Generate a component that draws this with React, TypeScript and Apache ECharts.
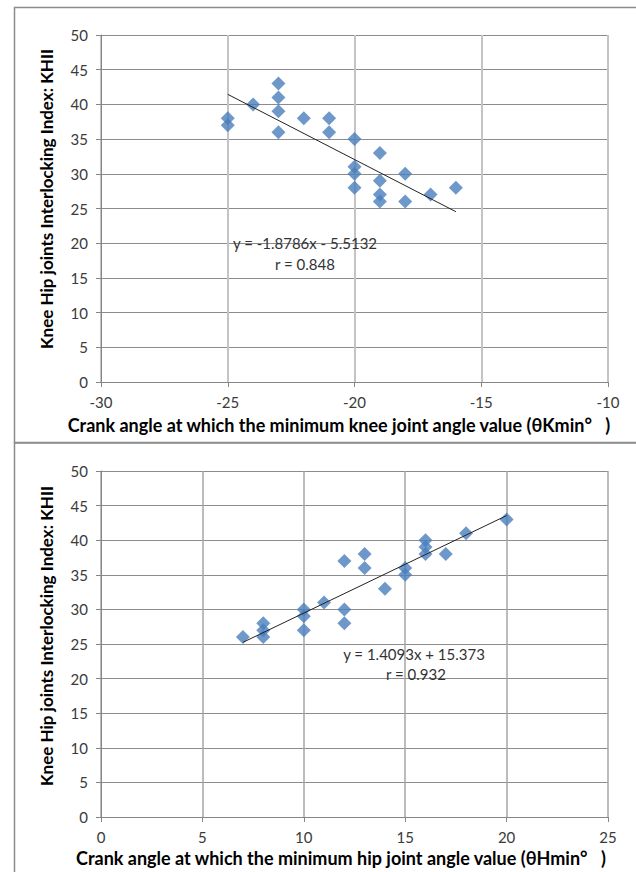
import React, { useEffect, useRef } from "react";
import * as echarts from "echarts";

// Top chart: knee joint
const kneeX = [-25, -25, -24, -23, -23, -23, -23, -22, -21, -21, -20, -20, -20, -20, -19, -19, -19, -19, -18, -18, -17, -16];
const kneeY = [38, 37, 40, 43, 41, 39, 36, 38, 38, 36, 35, 31, 30, 28, 33, 29, 27, 26, 30, 26, 27, 28];
const kneeTrend = [[-25, 41.45], [-16, 24.54]];

// Bottom chart: hip joint
const hipX = [7, 8, 8, 8, 10, 10, 10, 11, 12, 12, 12, 13, 13, 14, 15, 15, 16, 16, 16, 17, 18, 20];
const hipY = [26, 28, 27, 26, 30, 29, 27, 31, 37, 30, 28, 38, 36, 33, 36, 35, 40, 39, 38, 38, 41, 43];
const hipTrend = [[7, 25.24], [20, 43.56]];

const kneeXTicks = { min: -30, max: -10, interval: 5 };
const hipXTicks = { min: 0, max: 25, interval: 5 };
const yTicks = { min: 0, max: 50, interval: 5 };

const yTitle = "Knee Hip joints Interlocking Index: KHII";
const kneeXTitle = "Crank angle at which the minimum knee joint angle value (\u03b8Kmin\u00b0\u2003)";
const hipXTitle = "Crank angle at which the minimum hip joint angle value (\u03b8Hmin\u00b0\u2003)";
const kneeEq = ["y = -1.8786x - 5.5132", "r = 0.848"];
const hipEq = ["y = 1.4093x + 15.373", "r = 0.932"];

const FONT = "Lato, 'Liberation Sans', sans-serif";
const BLUE = "#4A7EBB";

export default function App() {
  const ref = useRef<HTMLDivElement>(null);
  useEffect(() => {
    if (!ref.current) return;
    const chart = echarts.init(ref.current, null, { renderer: "svg" });
    const xAxisBase = (t: any, vColor: string, vWidth: number) => ({
      type: "value",
      min: t.min,
      max: t.max,
      interval: t.interval,
      axisLine: { show: true, onZero: false, lineStyle: { color: "#868686", width: 1 } },
      axisTick: { show: true, length: 5, lineStyle: { color: "#868686" } },
      axisLabel: { color: "#3a3a3a", fontSize: 15, fontFamily: FONT, margin: 12 },
      splitLine: { show: true, lineStyle: { color: vColor, width: vWidth } },
    });
    const yAxisBase = () => ({
      type: "value",
      min: yTicks.min,
      max: yTicks.max,
      interval: yTicks.interval,
      axisLine: { show: true, lineStyle: { color: "#868686", width: 1 } },
      axisTick: { show: true, length: 5, lineStyle: { color: "#868686" } },
      axisLabel: { color: "#3a3a3a", fontSize: 15, fontFamily: FONT, margin: 13 },
      splitLine: { show: true, lineStyle: { color: "#8c8c8c", width: 1 } },
    });
    const txt = (x: number, y: number, text: string, opts: any = {}) => ({
      type: "text",
      x,
      y,
      rotation: opts.rotation || 0,
      style: {
        text,
        fill: opts.fill || "#000",
        font: opts.font || `15px ${FONT}`,
        align: "center",
        verticalAlign: "middle",
      },
      z: 10,
    });
    chart.setOption({
      animation: false,
      backgroundColor: "#fff",
      grid: [
        { left: 101, top: 35, width: 507, height: 347 },
        { left: 101, top: 471, width: 507, height: 346 },
      ],
      xAxis: [
        { gridIndex: 0, ...xAxisBase(kneeXTicks, "#c4c4c4", 2) },
        { gridIndex: 1, ...xAxisBase(hipXTicks, "#a6a6a6", 1.5) },
      ],
      yAxis: [
        { gridIndex: 0, ...yAxisBase() },
        { gridIndex: 1, ...yAxisBase() },
      ],
      series: [
        {
          type: "scatter",
          xAxisIndex: 0,
          yAxisIndex: 0,
          symbol: "diamond",
          symbolSize: 14,
          itemStyle: { color: BLUE },
          data: kneeX.map((x, i) => [x, kneeY[i]]),
          z: 3,
        },
        {
          type: "line",
          xAxisIndex: 0,
          yAxisIndex: 0,
          data: kneeTrend,
          symbol: "none",
          lineStyle: { color: "#222", width: 1 },
          z: 4,
        },
        {
          type: "scatter",
          xAxisIndex: 1,
          yAxisIndex: 1,
          symbol: "diamond",
          symbolSize: 14,
          itemStyle: { color: BLUE },
          data: hipX.map((x, i) => [x, hipY[i]]),
          z: 3,
        },
        {
          type: "line",
          xAxisIndex: 1,
          yAxisIndex: 1,
          data: hipTrend,
          symbol: "none",
          lineStyle: { color: "#222", width: 1 },
          z: 4,
        },
      ],
      graphic: [
        {
          type: "rect",
          shape: { x: 14.5, y: 7.5, width: 640, height: 435 },
          style: { fill: "none", stroke: "#8c8c8c", lineWidth: 1.5 },
        },
        {
          type: "rect",
          shape: { x: 14.5, y: 443, width: 640, height: 440 },
          style: { fill: "none", stroke: "#8c8c8c", lineWidth: 1.5 },
        },
        txt(46, 199, yTitle, { rotation: Math.PI / 2, font: `bold 17px ${FONT}` }),
        txt(46, 636, yTitle, { rotation: Math.PI / 2, font: `bold 17px ${FONT}` }),
        txt(339, 425, kneeXTitle, { font: `bold 18px ${FONT}` }),
        txt(341, 858, hipXTitle, { font: `bold 18px ${FONT}` }),
        txt(305, 243, kneeEq[0], { fill: "#333" }),
        txt(305, 264, kneeEq[1], { fill: "#333" }),
        txt(414, 654, hipEq[0], { fill: "#333" }),
        txt(416, 674, hipEq[1], { fill: "#333" }),
      ],
    });
    return () => chart.dispose();
  }, []);
  return (
    <div
      ref={ref}
      style={{ position: "absolute", left: 0, top: 0, width: 636, height: 872 }}
    />
  );
}
